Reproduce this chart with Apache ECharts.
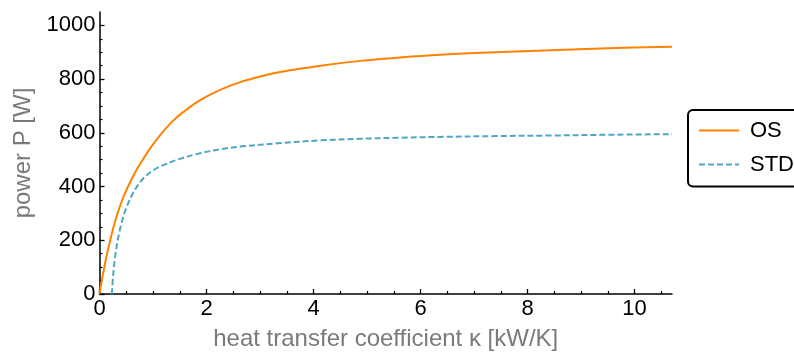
<!DOCTYPE html>
<html>
<head>
<meta charset="utf-8">
<script src="https://cdn.jsdelivr.net/npm/echarts@6/dist/echarts.min.js"></script>
<style>
html,body{margin:0;padding:0;background:#fff;}
#main{width:794px;height:356px;}
</style>
</head>
<body>
<div id="main"></div>
<script>
// kappa [kW/K] and power [W]
var osK  = [0, 0.05, 0.1, 0.15, 0.2, 0.27, 0.35, 0.44, 0.54, 0.65, 0.79, 0.95, 1.16, 1.35, 1.57, 1.88, 2.3, 2.63, 3.0, 3.38, 4.13, 4.87, 5.62, 6.37, 7.4, 8.43, 9.5, 10.7];
var osP  = [0, 58, 110, 157, 200, 255, 308, 358, 403, 447, 494, 543, 598, 640, 678, 722, 764, 789, 810, 827, 850, 868, 881, 891, 900, 908, 915, 921];
var stdK = [0.23, 0.26, 0.3, 0.34, 0.4, 0.48, 0.6, 0.7, 0.85, 1.0, 1.16, 1.5, 1.88, 2.3, 2.63, 3.38, 4.13, 4.87, 5.62, 6.37, 7.4, 8.43, 9.5, 10.7];
var stdP = [0, 80, 150, 200, 255, 310, 365, 400, 437, 460, 477, 503, 524, 540, 549, 562, 572, 578, 582, 585, 588, 590, 593, 595];
var xMajor = [0, 2, 4, 6, 8, 10];
var xMinor = [0.5, 1, 1.5, 2.5, 3, 3.5, 4.5, 5, 5.5, 6.5, 7, 7.5, 8.5, 9, 9.5, 10.5];
var yMajor = [0, 200, 400, 600, 800, 1000];
var yMinor = [50, 100, 150, 250, 300, 350, 450, 500, 550, 650, 700, 750, 850, 900, 950];
var seriesNames = ['OS', 'STD'];

function pairs(a, b) { return a.map(function (v, i) { return [v, b[i]]; }); }
function plain(v) { return String(v); }

var FONT = '"Liberation Sans", Arial, Helvetica, sans-serif';
var chart = echarts.init(document.getElementById('main'), null, {renderer: 'canvas'});
var xMin = 0, xMax = 10.7, yMin = 0, yMax = 1050;

chart.setOption({
  animation: false,
  backgroundColor: '#ffffff',
  grid: {left: 99.5, right: 122, top: 12, bottom: 58.5, containLabel: false},
  legend: {
    orient: 'vertical',
    left: 688, top: 110,
    data: seriesNames,
    itemWidth: 40, itemHeight: 14, itemGap: 12,
    padding: [9.5, 80, 11, 10],
    borderColor: '#000', borderWidth: 2, borderRadius: 5,
    itemStyle: {opacity: 0},
    textStyle: {fontSize: 22, color: '#000', fontFamily: FONT, padding: [0, 0, 0, 6]}
  },
  xAxis: [{
    type: 'value', min: xMin, max: xMax, position: 'bottom',
    name: 'heat transfer coefficient κ [kW/K]', nameLocation: 'middle', nameGap: 33,
    nameTextStyle: {fontSize: 24, color: '#7a7a7a', fontFamily: FONT, verticalAlign: 'top'},
    axisLine: {show: true, onZero: false, lineStyle: {color: '#000', width: 1.5}},
    axisTick: {show: true, inside: true, length: 5, customValues: xMajor, lineStyle: {color: '#000', width: 1.3}},
    axisLabel: {customValues: xMajor, formatter: plain, fontSize: 22, color: '#000', margin: 4, fontFamily: FONT},
    splitLine: {show: false}
  }, {
    type: 'value', min: xMin, max: xMax, position: 'bottom',
    axisLine: {show: false},
    axisTick: {show: true, inside: true, length: 3, customValues: xMinor, lineStyle: {color: '#000', width: 1.2}},
    axisLabel: {show: false},
    splitLine: {show: false}
  }],
  yAxis: [{
    type: 'value', min: yMin, max: yMax, position: 'left',
    name: 'power P [W]', nameLocation: 'middle', nameGap: 62,
    nameTextStyle: {fontSize: 24, color: '#7a7a7a', fontFamily: FONT},
    axisLine: {show: true, onZero: false, lineStyle: {color: '#000', width: 1.5}},
    axisTick: {show: true, inside: true, length: 5, customValues: yMajor, lineStyle: {color: '#000', width: 1.3}},
    axisLabel: {customValues: yMajor, formatter: plain, fontSize: 22, color: '#000', margin: 4, fontFamily: FONT},
    splitLine: {show: false}
  }, {
    type: 'value', min: yMin, max: yMax, position: 'left',
    axisLine: {show: false},
    axisTick: {show: true, inside: true, length: 3, customValues: yMinor, lineStyle: {color: '#000', width: 1.2}},
    axisLabel: {show: false},
    splitLine: {show: false}
  }],
  series: [{
    name: seriesNames[0], type: 'line', data: pairs(osK, osP),
    xAxisIndex: 0, yAxisIndex: 0,
    showSymbol: false, symbol: 'none', smooth: 0.35,
    lineStyle: {color: '#ff8200', width: 2},
    itemStyle: {color: '#ff8200'}
  }, {
    name: seriesNames[1], type: 'line', data: pairs(stdK, stdP),
    xAxisIndex: 0, yAxisIndex: 0,
    showSymbol: false, symbol: 'none', smooth: 0.35,
    lineStyle: {color: '#4fa6c4', width: 2, type: [6, 3]},
    itemStyle: {color: '#4fa6c4'}
  }]
});
</script>
</body>
</html>
